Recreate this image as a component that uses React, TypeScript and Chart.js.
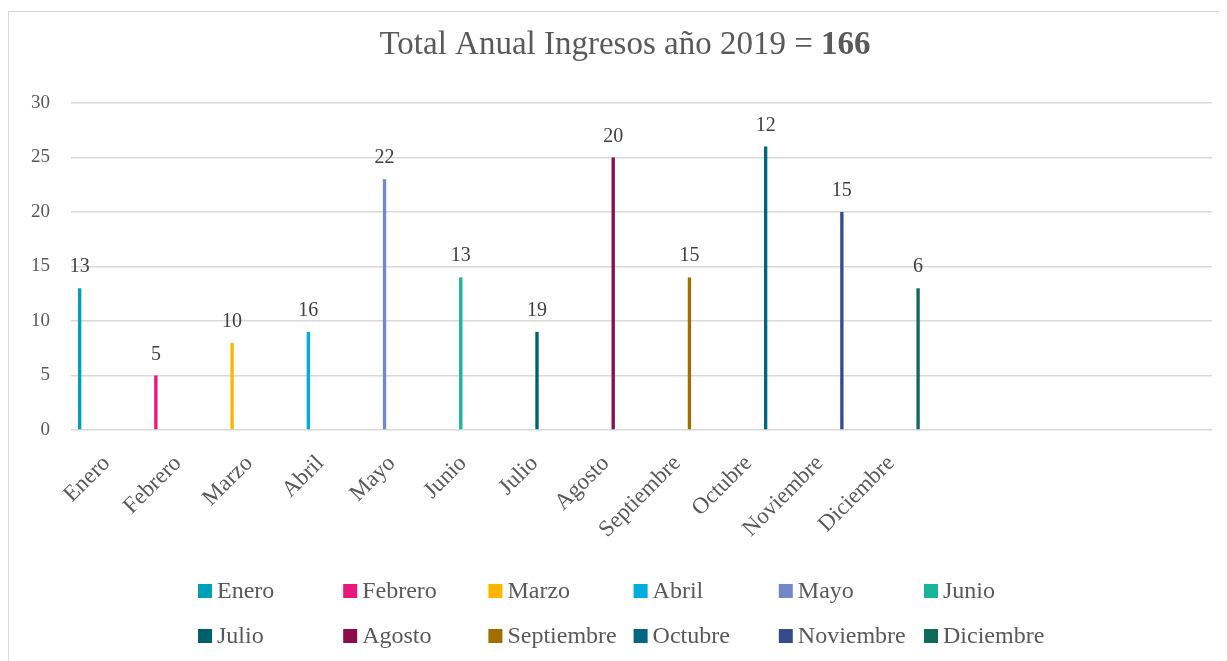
import React, { useEffect, useRef } from 'react';
import { Chart, registerables } from 'chart.js';

Chart.register(...registerables);

const months = ['Enero', 'Febrero', 'Marzo', 'Abril', 'Mayo', 'Junio', 'Julio', 'Agosto', 'Septiembre', 'Octubre', 'Noviembre', 'Diciembre'];
const emptyCategories = ['', '', '', ''];
const barValues = [13, 5, 8, 9, 23, 14, 9, 25, 14, 26, 20, 13];
const dataLabels = [13, 5, 10, 16, 22, 13, 19, 20, 15, 12, 15, 6];
const seriesColors = ['#00A0B8', '#E8177B', '#FFB400', '#00ADDE', '#7189C7', '#1AB39C', '#00606D', '#8B0D4A', '#A06F00', '#006681', '#364B8B', '#0E6B5C'];
const yMin = 0;
const yMax = 30;
const yStep = 5;
const titleMain = 'Total Anual Ingresos año 2019 = ';
const titleTotal = '166';

const FONT = '"Liberation Serif", "DejaVu Serif", serif';
const TEXT = '#595959';
const CANVAS_W = 1232;
const CANVAS_H = 660;

export default function App() {
  const ref = useRef<HTMLCanvasElement | null>(null);

  useEffect(() => {
    document.documentElement.style.overflow = 'hidden';
    const canvas = ref.current;
    if (!canvas) return;
    const categories = [...months, ...emptyCategories];
    const datasets = months.map((m, i) => ({
      label: m,
      data: categories.map((_, j) => (j === i ? barValues[i] : null)),
      backgroundColor: seriesColors[i],
      borderWidth: 0,
      categoryPercentage: 0.826,
      barPercentage: 0.68,
    }));

    const titlePlugin = {
      id: 'customTitle',
      afterDraw(chart: any) {
        const ctx = chart.ctx;
        ctx.save();
        ctx.fillStyle = TEXT;
        ctx.textBaseline = 'alphabetic';
        ctx.textAlign = 'left';
        const normal = `33px ${FONT}`;
        const bold = `bold 33px ${FONT}`;
        ctx.font = normal;
        const w1 = ctx.measureText(titleMain).width;
        ctx.font = bold;
        const w2 = ctx.measureText(titleTotal).width;
        const x0 = 616 - (w1 + w2) / 2;
        ctx.font = normal;
        ctx.fillText(titleMain, x0, 42);
        ctx.font = bold;
        ctx.fillText(titleTotal, x0 + w1, 42);
        ctx.restore();
      },
    };

    const labelPlugin = {
      id: 'barLabels',
      afterDatasetsDraw(chart: any) {
        const ctx = chart.ctx;
        ctx.save();
        ctx.font = `20px ${FONT}`;
        ctx.fillStyle = '#404040';
        ctx.textAlign = 'center';
        ctx.textBaseline = 'alphabetic';
        months.forEach((_, i) => {
          const el = chart.getDatasetMeta(i).data[i];
          if (!el) return;
          ctx.fillText(String(dataLabels[i]), el.x, el.y - 16);
        });
        ctx.restore();
      },
    };

    const legendPlugin = {
      id: 'gridLegend',
      afterDraw(chart: any) {
        const ctx = chart.ctx;
        ctx.save();
        ctx.font = `24px ${FONT}`;
        ctx.textAlign = 'left';
        ctx.textBaseline = 'middle';
        const colW = 145.2;
        const x0 = 189;
        const rowTops = [572, 617];
        months.forEach((m, i) => {
          const r = Math.floor(i / 6);
          const c = i % 6;
          const x = x0 + c * colW;
          const y = rowTops[r];
          ctx.fillStyle = seriesColors[i];
          ctx.fillRect(x, y, 14, 14);
          ctx.fillStyle = TEXT;
          ctx.fillText(m, x + 19, y + 8);
        });
        ctx.restore();
      },
    };

    const chart = new Chart(canvas, {
      type: 'bar',
      data: { labels: categories, datasets },
      options: {
        responsive: false,
        animation: false,
        devicePixelRatio: 1,
        layout: { padding: { top: 91, left: 0, right: 29, bottom: 0 } },
        plugins: {
          legend: { display: false },
          title: { display: false },
          tooltip: { enabled: false },
        },
        scales: {
          x: {
            offset: true,
            grid: { display: false, drawTicks: false },
            border: { display: false },
            ticks: {
              autoSkip: false,
              minRotation: 45,
              maxRotation: 45,
              padding: 20,
              color: TEXT,
              font: { family: FONT, size: 23 },
            },
            afterFit(scale: any) {
              scale.height = 242;
            },
          },
          y: {
            min: yMin,
            max: yMax,
            grid: { color: '#d9d9d9', lineWidth: 1.5, drawTicks: false },
            border: { display: false },
            ticks: {
              stepSize: yStep,
              padding: 21,
              color: TEXT,
              font: { family: FONT, size: 19 },
            },
            afterFit(scale: any) {
              scale.width = 62;
            },
          },
        },
      },
      plugins: [titlePlugin, labelPlugin, legendPlugin],
    });
    return () => chart.destroy();
  }, []);

  return (
    <div style={{ paddingTop: 3 }}>
      <div style={{ border: '1px solid #d9d9d9', width: CANVAS_W, height: CANVAS_H, background: '#fff' }}>
        <canvas ref={ref} width={CANVAS_W} height={CANVAS_H} style={{ display: 'block', width: CANVAS_W, height: CANVAS_H }} />
      </div>
    </div>
  );
}
